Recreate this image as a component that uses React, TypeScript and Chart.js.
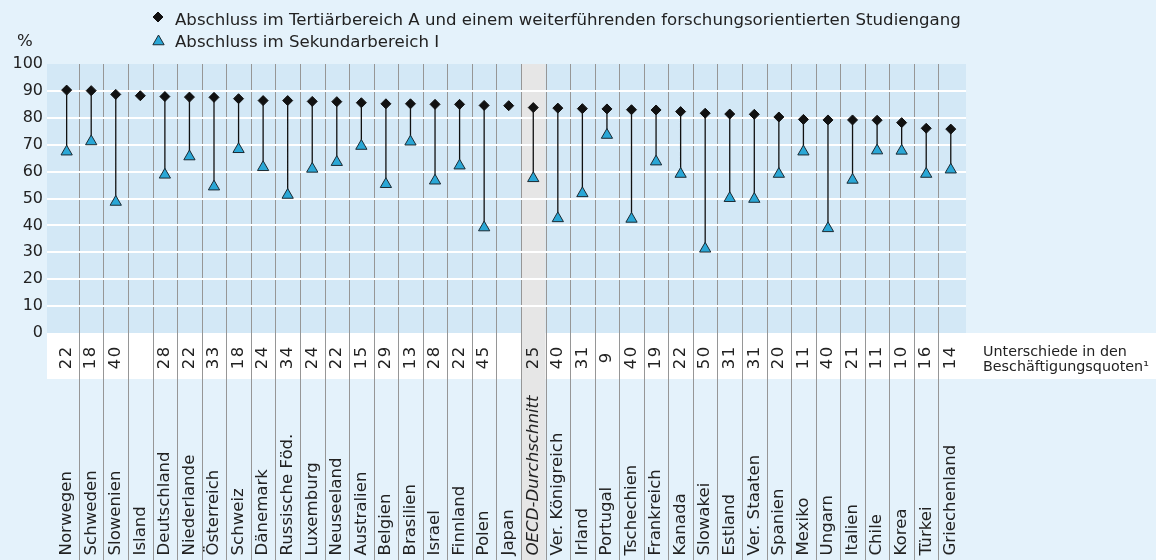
import React, { useEffect, useRef } from 'react';
import { Chart, registerables } from 'chart.js';

Chart.register(...registerables);

const countries = [
  'Norwegen', 'Schweden', 'Slowenien', 'Island', 'Deutschland', 'Niederlande', 'Österreich', 'Schweiz',
  'Dänemark', 'Russische Föd.', 'Luxemburg', 'Neuseeland', 'Australien', 'Belgien', 'Brasilien', 'Israel',
  'Finnland', 'Polen', 'Japan', 'OECD-Durchschnitt', 'Ver. Königreich', 'Irland', 'Portugal', 'Tschechien',
  'Frankreich', 'Kanada', 'Slowakei', 'Estland', 'Ver. Staaten', 'Spanien', 'Mexiko', 'Ungarn', 'Italien',
  'Chile', 'Korea', 'Türkei', 'Griechenland',
];

const tertiaryA = [
  90.3, 90.1, 88.7, 88.2, 87.9, 87.7, 87.6, 87.1, 86.4, 86.4, 86.1, 86.0, 85.6, 85.2, 85.2, 85.0, 85.0, 84.6,
  84.5, 83.8, 83.6, 83.4, 83.3, 83.0, 82.9, 82.3, 81.7, 81.4, 81.3, 80.3, 79.4, 79.2, 79.2, 79.1, 78.2, 76.1, 75.8,
];

const lowerSecondary: (number | null)[] = [
  67.4, 71.2, 48.7, null, 58.8, 65.6, 54.4, 68.3, 61.6, 51.3, 61.0, 63.5, 69.5, 55.3, 71.1, 56.6, 62.2, 39.2,
  null, 57.5, 42.6, 51.9, 73.6, 42.4, 63.7, 59.1, 31.3, 50.1, 49.8, 59.1, 67.4, 38.9, 56.9, 67.8, 67.7, 59.1, 60.7,
];

const employmentGaps = [
  '22', '18', '40', '', '28', '22', '33', '18', '24', '34', '24', '22', '15', '29', '13', '28', '22', '45',
  '', '25', '40', '31', '9', '40', '19', '22', '50', '31', '31', '20', '11', '40', '21', '11', '10', '16', '14',
];

const legendLabels = [
  'Abschluss im Tertiärbereich A und einem weiterführenden forschungsorientierten Studiengang',
  'Abschluss im Sekundarbereich I',
];
const gapCaption = ['Unterschiede in den', 'Beschäftigungsquoten¹'];
const yUnit = '%';
const highlightCountry = 'OECD-Durchschnitt';

const FONT = '"DejaVu Sans", sans-serif';
const PAGE_BG = '#e4f2fb';
const PLOT_BG = '#d3e8f6';
const TEXT = '#222222';
const TRI_FILL = '#2aa7d6';
const TRI_BORDER = '#1b2a33';
const DIAMOND = '#111111';

function drawDiamond(ctx: CanvasRenderingContext2D, x: number, y: number, r: number) {
  ctx.beginPath();
  ctx.moveTo(x, y - r);
  ctx.lineTo(x + r, y);
  ctx.lineTo(x, y + r);
  ctx.lineTo(x - r, y);
  ctx.closePath();
  ctx.fillStyle = DIAMOND;
  ctx.strokeStyle = DIAMOND;
  ctx.lineWidth = 1;
  ctx.fill();
  ctx.stroke();
}

function drawTriangle(ctx: CanvasRenderingContext2D, x: number, y: number, r: number) {
  ctx.beginPath();
  for (let k = 0; k < 3; k++) {
    const a = (k * 2 * Math.PI) / 3;
    const px = x + Math.sin(a) * r;
    const py = y - Math.cos(a) * r;
    if (k === 0) ctx.moveTo(px, py);
    else ctx.lineTo(px, py);
  }
  ctx.closePath();
  ctx.fillStyle = TRI_FILL;
  ctx.strokeStyle = TRI_BORDER;
  ctx.lineWidth = 1;
  ctx.fill();
  ctx.stroke();
}

const decorPlugin = {
  id: 'decor',
  beforeDraw(chart: any) {
    const { ctx, chartArea: a, scales } = chart;
    const x = scales.x;
    const W = chart.width;
    const H = chart.height;
    ctx.save();
    ctx.fillStyle = PAGE_BG;
    ctx.fillRect(0, 0, W, H);
    ctx.fillStyle = PLOT_BG;
    ctx.fillRect(a.left, a.top, a.right - a.left, a.bottom - a.top);
    ctx.fillStyle = '#ffffff';
    ctx.fillRect(a.left, a.bottom, W - a.left, 46);
    const step = x.getPixelForValue(1) - x.getPixelForValue(0);
    const hi = countries.indexOf(highlightCountry);
    if (hi >= 0) {
      const cx = x.getPixelForValue(hi);
      ctx.fillStyle = '#e6e6e6';
      ctx.fillRect(cx - step / 2, a.top, step, H - a.top);
    }
    ctx.strokeStyle = '#969696';
    ctx.lineWidth = 1;
    for (let i = 0; i < countries.length - 1; i++) {
      const px = Math.round(x.getPixelForValue(i + 0.5)) + 0.5;
      ctx.beginPath();
      ctx.moveTo(px, a.top);
      ctx.lineTo(px, H);
      ctx.stroke();
    }
    ctx.restore();
  },
  afterDraw(chart: any) {
    const { ctx, chartArea: a, scales } = chart;
    const x = scales.x;
    ctx.save();
    ctx.fillStyle = TEXT;
    countries.forEach((c, i) => {
      const px = x.getPixelForValue(i);
      const italic = c === highlightCountry ? 'italic ' : '';
      if (employmentGaps[i]) {
        ctx.save();
        ctx.translate(px, a.bottom + 25);
        ctx.rotate(-Math.PI / 2);
        ctx.font = `16.5px ${FONT}`;
        (ctx as any).letterSpacing = '1.5px';
        ctx.textAlign = 'center';
        ctx.textBaseline = 'middle';
        ctx.fillStyle = TEXT;
        ctx.fillText(employmentGaps[i], 0.75, 0);
        ctx.restore();
      }
      ctx.save();
      ctx.translate(px, 555.5);
      ctx.rotate(-Math.PI / 2);
      ctx.font = `${italic}16.6px ${FONT}`;
      ctx.textAlign = 'left';
      ctx.textBaseline = 'middle';
      ctx.fillStyle = TEXT;
      ctx.fillText(c, 0, 0);
      ctx.restore();
    });
    ctx.font = `14.3px ${FONT}`;
    ctx.textAlign = 'left';
    ctx.textBaseline = 'alphabetic';
    ctx.fillText(gapCaption[0], 983, 355.5);
    ctx.fillText(gapCaption[1], 983, 371);
    ctx.font = `16.6px ${FONT}`;
    drawDiamond(ctx, 158, 17, 5);
    drawTriangle(ctx, 158.5, 41.5, 6.5);
    ctx.fillStyle = TEXT;
    ctx.fillText(legendLabels[0], 175, 25);
    ctx.fillText(legendLabels[1], 175, 46.5);
    ctx.textAlign = 'center';
    ctx.fillText(yUnit, 25, 46);
    ctx.restore();
  },
};

export default function App() {
  const ref = useRef<HTMLCanvasElement | null>(null);

  useEffect(() => {
    if (!ref.current) return;
    const connectors: { x: number; y: number | null }[] = [];
    countries.forEach((_, i) => {
      const lo = lowerSecondary[i];
      if (lo == null) return;
      connectors.push({ x: i, y: lo }, { x: i, y: tertiaryA[i] }, { x: i, y: null });
    });
    const triPoints = countries
      .map((_, i) => (lowerSecondary[i] == null ? null : { x: i, y: lowerSecondary[i] as number }))
      .filter((d) => d !== null);
    const diaPoints = countries.map((_, i) => ({ x: i, y: tertiaryA[i] }));

    const chart = new Chart(ref.current, {
      type: 'scatter',
      data: {
        datasets: [
          {
            type: 'line',
            label: 'Abstand',
            data: connectors as any,
            borderColor: '#111111',
            borderWidth: 1.3,
            pointRadius: 0,
            spanGaps: false,
            fill: false,
            order: 3,
          },
          {
            type: 'scatter',
            label: legendLabels[1],
            data: triPoints as any,
            pointStyle: 'triangle',
            pointRadius: 6.5,
            backgroundColor: TRI_FILL,
            borderColor: TRI_BORDER,
            borderWidth: 1,
            order: 2,
          },
          {
            type: 'scatter',
            label: legendLabels[0],
            data: diaPoints,
            pointStyle: 'rectRot',
            pointRadius: 5,
            backgroundColor: DIAMOND,
            borderColor: DIAMOND,
            borderWidth: 1,
            order: 1,
          },
        ],
      },
      options: {
        animation: false,
        responsive: false,
        maintainAspectRatio: false,
        layout: { padding: { left: 0, top: 64, right: 190, bottom: 227 } },
        plugins: { legend: { display: false }, tooltip: { enabled: false } },
        scales: {
          x: { type: 'linear', min: -0.8, max: 36.62, offset: false, display: false },
          y: {
            min: 0,
            max: 100,
            afterFit: (s: any) => {
              s.width = 47;
            },
            border: { display: false },
            grid: {
              color: (c: any) => (c.tick && c.tick.value > 0 && c.tick.value < 100 ? '#ffffff' : 'rgba(0,0,0,0)'),
              lineWidth: 2,
              drawTicks: false,
            },
            ticks: {
              stepSize: 10,
              padding: 4,
              color: TEXT,
              font: { family: FONT, size: 16 },
            },
          },
        },
      },
      plugins: [decorPlugin],
    });
    return () => chart.destroy();
  }, []);

  return (
    <div style={{ position: 'fixed', left: 0, top: 0, width: 1156, height: 560 }}>
      <canvas ref={ref} width={1156} height={560} style={{ width: 1156, height: 560, display: 'block' }} />
    </div>
  );
}
